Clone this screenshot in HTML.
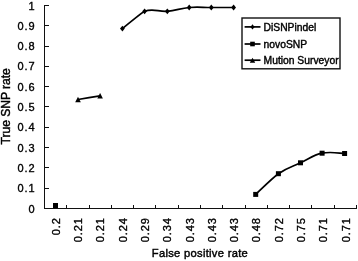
<!DOCTYPE html>
<html><head><meta charset="utf-8"><style>html,body{margin:0;padding:0;background:#fff;overflow:hidden}svg{display:block;will-change:transform}</style></head>
<body>
<svg width="358" height="261" viewBox="0 0 358 261">
<rect width="358" height="261" fill="#fff"/>
<g stroke="#111" stroke-width="1" fill="none" shape-rendering="crispEdges">
<path d="M44.5 5 V208.5 H357"/>
<path d="M45 208.5 h3.5"/>
<path d="M45 188.5 h3.5"/>
<path d="M45 167.5 h3.5"/>
<path d="M45 147.5 h3.5"/>
<path d="M45 127.5 h3.5"/>
<path d="M45 106.5 h3.5"/>
<path d="M45 86.5 h3.5"/>
<path d="M45 66.5 h3.5"/>
<path d="M45 46.5 h3.5"/>
<path d="M45 25.5 h3.5"/>
<path d="M45 5.5 h3.5"/>
<path d="M66.5 208 v-3.5"/>
<path d="M89.5 208 v-3.5"/>
<path d="M111.5 208 v-3.5"/>
<path d="M133.5 208 v-3.5"/>
<path d="M155.5 208 v-3.5"/>
<path d="M178.5 208 v-3.5"/>
<path d="M200.5 208 v-3.5"/>
<path d="M222.5 208 v-3.5"/>
<path d="M245.5 208 v-3.5"/>
<path d="M267.5 208 v-3.5"/>
<path d="M289.5 208 v-3.5"/>
<path d="M311.5 208 v-3.5"/>
<path d="M334.5 208 v-3.5"/>
<path d="M356.5 208 v-3.5"/>
</g>
<g font-family="Liberation Sans" font-size="11" fill="#000" letter-spacing="0.9" stroke="#000" stroke-width="0.35">
<text x="35.5" y="212.50" text-anchor="end">0</text>
<text x="35.5" y="192.20" text-anchor="end">0.1</text>
<text x="35.5" y="171.90" text-anchor="end">0.2</text>
<text x="35.5" y="151.60" text-anchor="end">0.3</text>
<text x="35.5" y="131.30" text-anchor="end">0.4</text>
<text x="35.5" y="111.00" text-anchor="end">0.5</text>
<text x="35.5" y="90.70" text-anchor="end">0.6</text>
<text x="35.5" y="70.40" text-anchor="end">0.7</text>
<text x="35.5" y="50.10" text-anchor="end">0.8</text>
<text x="35.5" y="29.80" text-anchor="end">0.9</text>
<text x="35.5" y="9.50" text-anchor="end">1</text>
<text transform="translate(59.84 217.3) rotate(-90)" text-anchor="end">0.2</text>
<text transform="translate(82.13 217.3) rotate(-90)" text-anchor="end">0.21</text>
<text transform="translate(104.41 217.3) rotate(-90)" text-anchor="end">0.21</text>
<text transform="translate(126.70 217.3) rotate(-90)" text-anchor="end">0.24</text>
<text transform="translate(148.99 217.3) rotate(-90)" text-anchor="end">0.29</text>
<text transform="translate(171.27 217.3) rotate(-90)" text-anchor="end">0.34</text>
<text transform="translate(193.56 217.3) rotate(-90)" text-anchor="end">0.43</text>
<text transform="translate(215.84 217.3) rotate(-90)" text-anchor="end">0.43</text>
<text transform="translate(238.13 217.3) rotate(-90)" text-anchor="end">0.43</text>
<text transform="translate(260.41 217.3) rotate(-90)" text-anchor="end">0.48</text>
<text transform="translate(282.70 217.3) rotate(-90)" text-anchor="end">0.72</text>
<text transform="translate(304.99 217.3) rotate(-90)" text-anchor="end">0.75</text>
<text transform="translate(327.27 217.3) rotate(-90)" text-anchor="end">0.71</text>
<text transform="translate(349.56 217.3) rotate(-90)" text-anchor="end">0.71</text>
</g>
<g font-family="Liberation Sans" fill="#000" text-anchor="middle" stroke="#000" stroke-width="0.42">
<text x="199.8" y="257.3" font-size="11.2" textLength="96.0" lengthAdjust="spacing">False positive rate</text>
<text transform="translate(9.8 106.3) rotate(-90)" font-size="12.2" textLength="76.3" lengthAdjust="spacing">True SNP rate</text>
</g>
<g fill="none" stroke="#000" stroke-width="1.7" stroke-linejoin="round">
<path d="M122.40 28.60 C123.51 27.74 142.35 12.17 144.60 11.30 C153.58 7.84 158.38 12.06 167.30 11.30 C176.22 10.54 180.40 8.26 189.20 7.50 C198.00 6.74 202.42 7.50 211.30 7.50 C220.18 7.50 229.14 7.50 233.60 7.50"/>
<path d="M255.70 194.40 C259.10 191.30 271.68 178.44 278.40 173.70 C287.36 167.38 291.76 166.90 300.50 162.80 C309.24 158.70 313.28 155.06 322.10 153.20 C330.92 151.34 340.10 153.44 344.60 153.50"/>
<path d="M78.00 99.50 C82.42 98.76 95.68 96.54 100.10 95.80"/>
</g>
<g fill="#000">
<path d="M122.40 25.70 L124.80 28.60 L122.40 31.50 L120.00 28.60Z"/>
<path d="M144.60 8.40 L147.00 11.30 L144.60 14.20 L142.20 11.30Z"/>
<path d="M167.30 8.40 L169.70 11.30 L167.30 14.20 L164.90 11.30Z"/>
<path d="M189.20 4.60 L191.60 7.50 L189.20 10.40 L186.80 7.50Z"/>
<path d="M211.30 4.60 L213.70 7.50 L211.30 10.40 L208.90 7.50Z"/>
<path d="M233.60 4.60 L236.00 7.50 L233.60 10.40 L231.20 7.50Z"/>
<rect x="53.00" y="203.00" width="5.0" height="5.0"/>
<rect x="253.20" y="191.90" width="5.0" height="5.0"/>
<rect x="275.90" y="171.20" width="5.0" height="5.0"/>
<rect x="298.00" y="160.30" width="5.0" height="5.0"/>
<rect x="319.60" y="150.70" width="5.0" height="5.0"/>
<rect x="342.10" y="151.00" width="5.0" height="5.0"/>
<path d="M78.00 96.70 L80.80 102.30 L75.20 102.30Z"/>
<path d="M100.10 93.00 L102.90 98.60 L97.30 98.60Z"/>
</g>
<rect x="242" y="18" width="98" height="50.8" fill="#fff" stroke="#111" stroke-width="1.4"/>
<g font-family="Liberation Sans" font-size="10.3" fill="#000">
<path d="M244.6 26.9 H260.5" stroke="#000" stroke-width="1.7"/>
<path d="M252.50 24.20 L254.60 26.90 L252.50 29.60 L250.40 26.90Z"/>
<text x="263.6" y="30.50" stroke="#000" stroke-width="0.4">DiSNPindel</text>
<path d="M244.6 44.0 H260.5" stroke="#000" stroke-width="1.7"/>
<rect x="250.20" y="41.70" width="4.6" height="4.6"/>
<text x="263.6" y="47.60" stroke="#000" stroke-width="0.4">novoSNP</text>
<path d="M244.6 60.2 H260.5" stroke="#000" stroke-width="1.7"/>
<path d="M252.50 57.70 L255.20 62.70 L249.80 62.70Z"/>
<text x="263.6" y="63.80" stroke="#000" stroke-width="0.4">Mution Surveyor</text>
</g>
</svg>
</body></html>
